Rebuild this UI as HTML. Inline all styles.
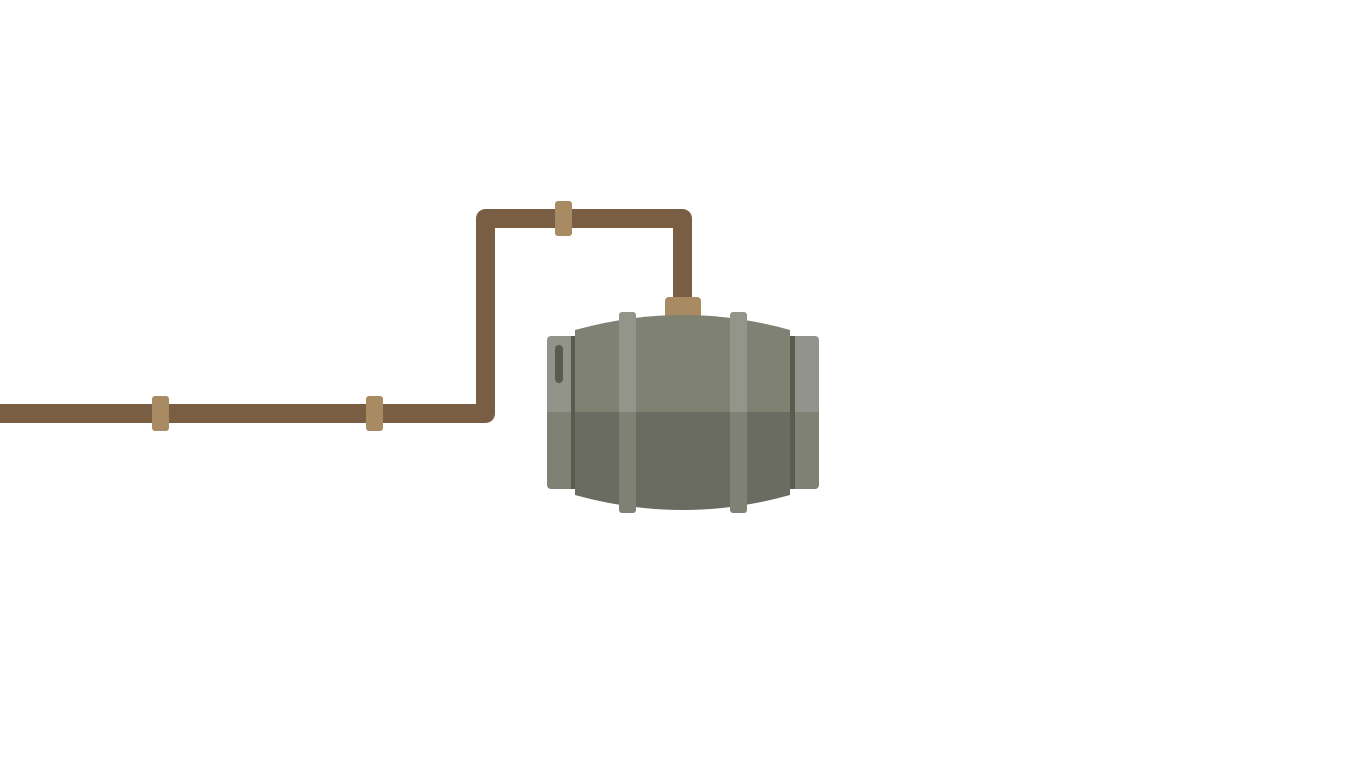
<!DOCTYPE html>
<html><head><style>html,body{margin:0;padding:0;background:#fff;width:1366px;height:768px;overflow:hidden}</style></head>
<body>
<svg width="1366" height="768" viewBox="0 0 1366 768" xmlns="http://www.w3.org/2000/svg">
<defs>
<clipPath id="top"><rect x="0" y="0" width="1366" height="412"/></clipPath>
<clipPath id="bot"><rect x="0" y="412" width="1366" height="400"/></clipPath>
</defs>
<path d="M0 413.5 H485.5 V218.5 H682.5 V305" fill="none" stroke="#7a5e43" stroke-width="19" stroke-linejoin="round"/>
<rect x="152" y="396" width="17" height="35" rx="3" fill="#a88b62"/>
<rect x="366" y="396" width="17" height="35" rx="3" fill="#a88b62"/>
<rect x="555" y="201" width="17" height="35" rx="3" fill="#a88b62"/>
<rect x="665" y="297" width="36" height="22" rx="4" fill="#a88b62"/>
<g id="barrel">
<g clip-path="url(#top)">
<rect x="547" y="336" width="30" height="153" rx="4" fill="#92938a"/>
<rect x="788" y="336" width="31" height="153" rx="4" fill="#92938a"/>
<path d="M575 330 Q683 300 790 330 V495 Q683 525 575 495 Z" fill="#7f8173"/>
<rect x="619" y="312" width="17" height="201" rx="3" fill="#93948a"/>
<rect x="730" y="312" width="17" height="201" rx="3" fill="#93948a"/>
</g>
<g clip-path="url(#bot)">
<rect x="547" y="336" width="30" height="153" rx="4" fill="#7f8174"/>
<rect x="788" y="336" width="31" height="153" rx="4" fill="#7f8174"/>
<path d="M575 330 Q683 300 790 330 V495 Q683 525 575 495 Z" fill="#6b6c61"/>
<rect x="619" y="312" width="17" height="201" rx="3" fill="#7f8174"/>
<rect x="730" y="312" width="17" height="201" rx="3" fill="#7f8174"/>
</g>
<rect x="571" y="336" width="4" height="153" fill="#5a5b4f"/>
<rect x="790" y="336" width="5" height="153" fill="#5a5b4f"/>
<rect x="555" y="345" width="8" height="38" rx="4" fill="#5a5b4e"/>
</g>
</svg>
</body></html>
